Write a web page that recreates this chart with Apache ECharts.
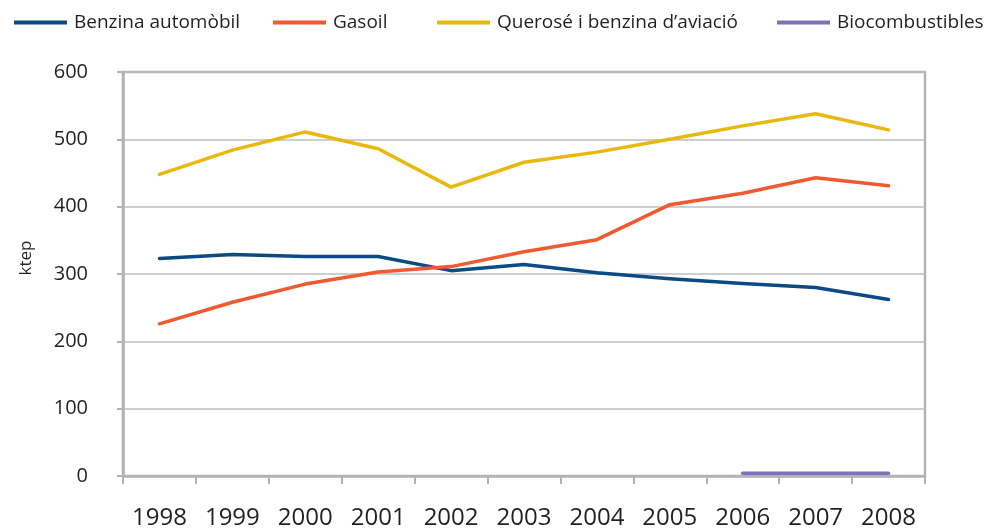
<!DOCTYPE html>
<html>
<head>
<meta charset="utf-8">
<script src="https://cdn.jsdelivr.net/npm/echarts@6/dist/echarts.min.js"></script>
<style>
  html, body { margin: 0; padding: 0; background: #fff; }
  #chart { width: 986px; height: 531px; }
</style>
</head>
<body>
<div id="chart"></div>
<script>
var years = ["1998", "1999", "2000", "2001", "2002", "2003", "2004", "2005", "2006", "2007", "2008"]
var benzina = [323, 329, 326, 326, 305, 314, 302, 293, 286, 280, 262]
var gasoil = [226, 258, 285, 303, 311, 333, 351, 403, 420, 443, 431]
var queroseno = [448, 484, 511, 486, 429, 466, 481, 500, 520, 538, 514]
var biocomb = [null, null, null, null, null, null, null, null, 4, 4, 4]
var yTicks = [0, 100, 200, 300, 400, 500, 600]

var names = ["Benzina automòbil", "Gasoil", "Querosé i benzina d’aviació", "Biocombustibles"]
var colors = ["#0b4a82", "#f15a31", "#e8b80d", "#7b72ba"]
var legendLeft = [14, 273, 437, 777]
var axisGray = "#b1b3b6"
var font = "'Open Sans', 'DejaVu Sans', sans-serif"

var myChart = echarts.init(document.getElementById("chart"))

function makeSeries(name, data, color) {
  return {
    name: name,
    type: "line",
    data: data,
    showSymbol: false,
    symbol: "none",
    connectNulls: false,
    lineStyle: { color: color, width: 3.5, cap: "round", join: "round" },
    itemStyle: { color: color },
    z: 3
  }
}

var option = {
  backgroundColor: "#ffffff",
  animation: false,
  color: colors,
  // one legend per item so each one sits in its own column
  legend: names.map(function (n, i) {
    return {
      data: [n],
      left: legendLeft[i],
      top: 13,
      icon: "rect",
      itemWidth: 53,
      itemHeight: 4,
      itemGap: 0,
      padding: 0,
      selectedMode: false,
      textStyle: { fontFamily: font, fontSize: 19, color: "#231f20", padding: [0, 0, 0, 2] }
    }
  }),
  grid: {
    left: 123,
    right: 61,
    top: 72,
    bottom: 55,
    show: true,
    borderColor: axisGray,
    borderWidth: 2.5,
    backgroundColor: "transparent"
  },
  xAxis: {
    type: "category",
    data: years,
    boundaryGap: true,
    axisLine: { lineStyle: { color: axisGray, width: 2.5 } },
    axisTick: { show: true, length: 8, alignWithLabel: false, lineStyle: { color: axisGray, width: 2 } },
    axisLabel: { margin: 30, fontFamily: font, fontSize: 24, color: "#231f20" },
    splitLine: { show: false }
  },
  yAxis: {
    type: "value",
    min: yTicks[0],
    max: yTicks[yTicks.length - 1],
    interval: 100,
    name: "ktep",
    nameLocation: "middle",
    nameGap: 88,
    nameRotate: 90,
    nameTextStyle: { fontFamily: font, fontSize: 17, color: "#231f20", padding: [0, 0, 0, 32] },
    axisLine: { show: true, lineStyle: { color: axisGray, width: 2.5 } },
    axisTick: { show: true, length: 6, lineStyle: { color: axisGray, width: 2 } },
    axisLabel: { margin: 35, fontFamily: font, fontSize: 20, color: "#231f20", padding: [4, 0, 0, 0] },
    splitLine: { show: true, lineStyle: { color: "#bcbec1", width: 1.5 } }
  },
  series: [
    makeSeries(names[0], benzina, colors[0]),
    makeSeries(names[1], gasoil, colors[1]),
    makeSeries(names[2], queroseno, colors[2]),
    makeSeries(names[3], biocomb, colors[3])
  ]
}
myChart.setOption(option)
</script>
</body>
</html>
